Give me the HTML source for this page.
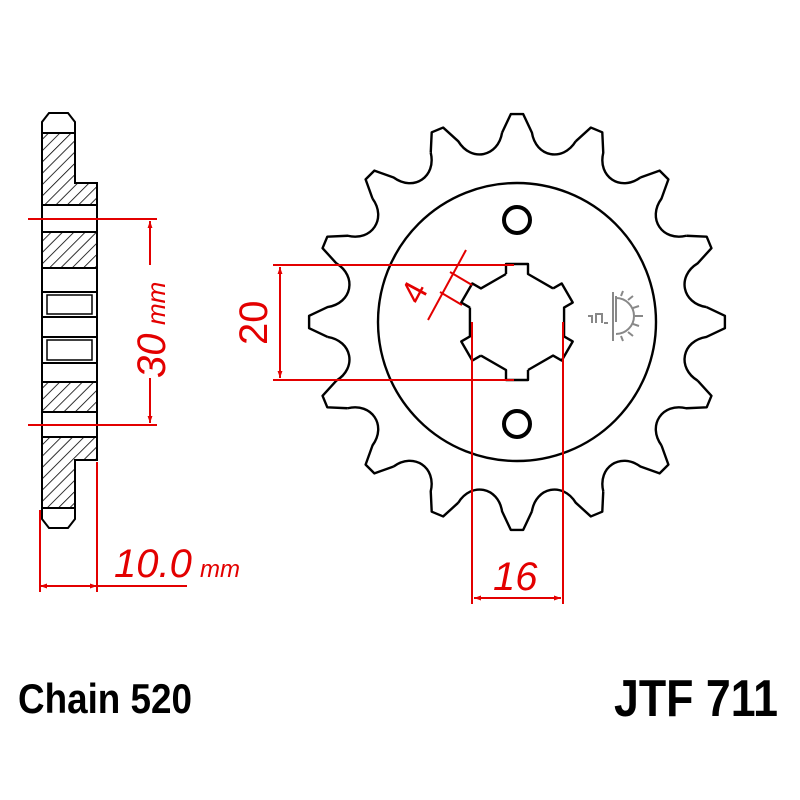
<!DOCTYPE html>
<html><head><meta charset="utf-8"><style>
html,body{margin:0;padding:0;background:#fff}
svg{display:block}
text{font-family:"Liberation Sans",sans-serif}
</style></head><body>
<svg width="800" height="800" viewBox="0 0 800 800" xmlns="http://www.w3.org/2000/svg">
<defs>
<pattern id="h" patternUnits="userSpaceOnUse" width="8" height="8" patternTransform="rotate(45)">
<rect width="8" height="8" fill="#fff"/><line x1="0" y1="0" x2="0" y2="8" stroke="#000" stroke-width="1.6"/>
</pattern>
<marker id="a" viewBox="0 0 10 10" refX="10" refY="5" markerWidth="13" markerHeight="7" orient="auto-start-reverse" markerUnits="userSpaceOnUse"><path d="M0,1.5 L10,5 L0,8.5z" fill="#e30000"/></marker>
<path id="tooth" d="M-14.91,-189.4 L-6.2,-207.9 L6.2,-207.9 L14.91,-189.4 C18.79,-164.9 45.75,-159.6 58.71,-180.7" fill="none" stroke="#000" stroke-width="2.4" stroke-linejoin="round"/>
<path id="lug" d="M-11,-48 L-11,-58 L11,-58 L11,-48 L36.07,-33.53" fill="none" stroke="#000" stroke-width="2.4" stroke-linejoin="round"/>
</defs>

<!-- side view -->
<g stroke="#000" stroke-width="2">
<path d="M42,133 L42,122 L49,113 L68,113 L75,122 L75,133 Z" fill="#fff"/>
<path d="M42,508 L42,519 L49,528 L68,528 L75,519 L75,508 Z" fill="#fff"/>
<path d="M42,133 H75 V183 H97 V205 H42 Z" fill="url(#h)"/>
<rect x="42" y="205" width="55" height="27" fill="#fff"/>
<rect x="42" y="232" width="55" height="36" fill="url(#h)"/>
<rect x="42" y="268" width="55" height="24" fill="#fff"/>
<rect x="42" y="292" width="55" height="25" fill="#fff"/>
<rect x="47" y="295" width="45" height="19" fill="#fff" stroke-width="1.5"/>
<rect x="42" y="317" width="55" height="20" fill="#fff"/>
<rect x="42" y="337" width="55" height="26" fill="#fff"/>
<rect x="47" y="340" width="45" height="20" fill="#fff" stroke-width="1.5"/>
<rect x="42" y="363" width="55" height="19" fill="#fff"/>
<rect x="42" y="382" width="55" height="30" fill="url(#h)"/>
<rect x="42" y="412" width="55" height="25" fill="#fff"/>
<path d="M42,437 H97 V460 H75 V508 H42 Z" fill="url(#h)"/>
</g>

<!-- sprocket -->
<g transform="translate(517,322)">
<use href="#tooth" transform="rotate(0)"/>
<use href="#tooth" transform="rotate(22.5)"/>
<use href="#tooth" transform="rotate(45)"/>
<use href="#tooth" transform="rotate(67.5)"/>
<use href="#tooth" transform="rotate(90)"/>
<use href="#tooth" transform="rotate(112.5)"/>
<use href="#tooth" transform="rotate(135)"/>
<use href="#tooth" transform="rotate(157.5)"/>
<use href="#tooth" transform="rotate(180)"/>
<use href="#tooth" transform="rotate(202.5)"/>
<use href="#tooth" transform="rotate(225)"/>
<use href="#tooth" transform="rotate(247.5)"/>
<use href="#tooth" transform="rotate(270)"/>
<use href="#tooth" transform="rotate(292.5)"/>
<use href="#tooth" transform="rotate(315)"/>
<use href="#tooth" transform="rotate(337.5)"/>
<use href="#lug" transform="rotate(0)"/>
<use href="#lug" transform="rotate(60)"/>
<use href="#lug" transform="rotate(120)"/>
<use href="#lug" transform="rotate(180)"/>
<use href="#lug" transform="rotate(240)"/>
<use href="#lug" transform="rotate(300)"/>
</g>
<circle cx="517" cy="322" r="139" fill="none" stroke="#000" stroke-width="2.4"/>
<circle cx="517" cy="220" r="13" fill="none" stroke="#000" stroke-width="4"/>
<circle cx="517" cy="424" r="13" fill="none" stroke="#000" stroke-width="4"/>

<!-- icon -->
<g stroke="#888" stroke-width="2" fill="none">
<line x1="613" y1="292" x2="613" y2="341"/>
<line x1="616" y1="296" x2="616" y2="322"/>
<path d="M616,298 A18,18 0 0 1 616,334"/>
<path d="M621,296 l2,-5 M628,300 l5,-4 M633,308 l6,-2 M635,316 l8,0 M633,324 l6,2 M628,332 l5,4 M621,336 l2,5"/>
<path d="M588,316 h4 v7 M596,323 v-9 h6 v9 M604,323 h4"/>
</g>

<!-- red dims -->
<g stroke="#e30000" stroke-width="2" fill="none">
<line x1="28" y1="219" x2="157" y2="219"/>
<line x1="28" y1="425" x2="157" y2="425"/>
<line x1="150" y1="221" x2="150" y2="265" marker-start="url(#a)"/>
<line x1="150" y1="378" x2="150" y2="423" marker-end="url(#a)"/>
<line x1="40" y1="510" x2="40" y2="592"/>
<line x1="97" y1="462" x2="97" y2="592"/>
<line x1="40" y1="586" x2="97" y2="586" marker-start="url(#a)" marker-end="url(#a)"/>
<line x1="97" y1="586" x2="187" y2="586"/>
<line x1="273" y1="265" x2="514" y2="265"/>
<line x1="273" y1="380" x2="514" y2="380"/>
<line x1="280" y1="267" x2="280" y2="378" marker-start="url(#a)" marker-end="url(#a)"/>
<line x1="472" y1="322" x2="472" y2="604"/>
<line x1="563" y1="322" x2="563" y2="604"/>
<line x1="474" y1="598" x2="561" y2="598" marker-start="url(#a)" marker-end="url(#a)"/>
<line x1="466" y1="250" x2="428" y2="320"/>
<line x1="450" y1="272" x2="472" y2="285"/>
<line x1="440" y1="292" x2="462" y2="305"/>
</g>
<g fill="#e30000" font-style="italic">
<text x="0" y="0" font-size="40" transform="translate(165,378) rotate(-90)">30</text>
<text x="0" y="0" font-size="26" transform="translate(165,325) rotate(-90)">mm</text>
<text x="0" y="0" font-size="40" font-style="normal" transform="translate(267,345) rotate(-90)">20</text>
<text x="0" y="0" font-size="34" font-style="normal" transform="translate(420,306) rotate(-62)">4</text>
<text x="114" y="577" font-size="40">10.0</text>
<text x="200" y="577" font-size="24">mm</text>
<text x="493" y="590" font-size="40">16</text>
</g>
<text x="18" y="713" font-size="42" font-weight="bold" textLength="174" lengthAdjust="spacingAndGlyphs">Chain 520</text>
<text x="614" y="716" font-size="52" font-weight="bold" textLength="164" lengthAdjust="spacingAndGlyphs">JTF 711</text>
</svg>
</body></html>
